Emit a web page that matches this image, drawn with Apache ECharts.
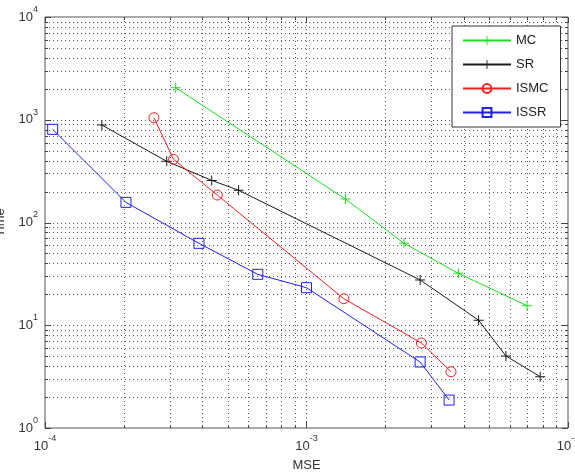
<!DOCTYPE html>
<html>
<head>
<meta charset="utf-8">
<script src="https://cdn.jsdelivr.net/npm/echarts@6/dist/echarts.min.js"></script>
<style>
html,body{margin:0;padding:0;background:#fff;}
#chart{width:575px;height:472px;}
</style>
</head>
<body>
<div id="chart"></div>
<script>
// ---- data ----
const seriesNames = ['MC', 'SR', 'ISMC', 'ISSR'];
const mcX = [3.16e-4, 1.41e-3, 2.36e-3, 3.81e-3, 6.97e-3];
const mcY = [2050, 169, 62.7, 32, 15.5];
const srX = [1.65e-4, 2.92e-4, 4.34e-4, 5.5e-4, 2.72e-3, 4.55e-3, 5.79e-3, 7.83e-3];
const srY = [889, 394, 257, 206, 27.6, 11.2, 5.02, 3.16];
const ismcX = [2.61e-4, 3.1e-4, 4.56e-4, 1.39e-3, 2.75e-3, 3.57e-3];
const ismcY = [1047, 412, 185, 18.1, 6.72, 3.53];
const issrX = [1.07e-4, 2.04e-4, 3.88e-4, 6.51e-4, 1.0e-3, 2.72e-3, 3.51e-3];
const issrY = [807, 157, 62.7, 31.3, 23.2, 4.39, 1.87];

// ---- axis ticks ----
const xMajor = [1e-4, 1e-3, 1e-2];
const xMinor = [2e-4, 3e-4, 4e-4, 5e-4, 6e-4, 7e-4, 8e-4, 9e-4,
                2e-3, 3e-3, 4e-3, 5e-3, 6e-3, 7e-3, 8e-3, 9e-3];
const yMajor = [1, 10, 100, 1000, 10000];
const yMinor = [2, 3, 4, 5, 6, 7, 8, 9,
                20, 30, 40, 50, 60, 70, 80, 90,
                200, 300, 400, 500, 600, 700, 800, 900,
                2000, 3000, 4000, 5000, 6000, 7000, 8000, 9000];
const xMin = 1e-4, xMax = 1e-2, yMin = 1, yMax = 1e4;

const FONT = '"Liberation Sans", Arial, Helvetica, sans-serif';
const TXT = '#333';
const GRIDC = '#5a5a5a';
const TICKC = '#444';

const zip = (a, b) => a.map((v, i) => [v, b[i]]);
const plus = 'path://M4.5,0 L5.5,0 L5.5,4.5 L10,4.5 L10,5.5 L5.5,5.5 L5.5,10 L4.5,10 L4.5,5.5 L0,5.5 L0,4.5 L4.5,4.5 Z';

function expLabel(v) {
  const e = Math.round(Math.log10(v));
  return '{b|10}{e|' + e + '}';
}
const labelRich = {
  b: {fontSize: 13, lineHeight: 24, color: TXT, fontFamily: FONT},
  e: {fontSize: 9, lineHeight: 10, verticalAlign: 'top', color: TXT, fontFamily: FONT}
};

const xGridData = xMajor.map(v => [v, 1, 1]).concat(xMinor.map(v => [v, 1, 0]));
const yGridData = yMajor.map(v => [1e-4, v, 1]).concat(yMinor.map(v => [1e-4, v, 0]));

function px(v) { return Math.round(v) + 0.5; }

function renderXGrid(params, api) {
  const v = api.value(0), major = api.value(2) === 1;
  const top = api.coord([v, yMax]), bot = api.coord([v, yMin]);
  const x = px(top[0]);
  const t = Math.round(top[1]), b = Math.round(bot[1]);
  const len = major ? 6 : 3;
  const children = [];
  if (v > xMin * 1.0001 && v < xMax * 0.9999) {
    children.push({type: 'line', shape: {x1: x, y1: t, x2: x, y2: b},
      style: {stroke: GRIDC, lineWidth: 1, lineDash: [1, 3]}, silent: true});
  }
  children.push({type: 'line', shape: {x1: x, y1: b, x2: x, y2: b - len}, style: {stroke: TICKC, lineWidth: 1}});
  children.push({type: 'line', shape: {x1: x, y1: t, x2: x, y2: t + len}, style: {stroke: TICKC, lineWidth: 1}});
  return {type: 'group', children: children};
}
function renderYGrid(params, api) {
  const v = api.value(1), major = api.value(2) === 1;
  const l = api.coord([xMin, v]), r = api.coord([xMax, v]);
  const y = px(l[1]);
  const x1 = Math.round(l[0]), x2 = Math.round(r[0]);
  const len = major ? 6 : 3;
  const children = [];
  if (v > yMin * 1.0001 && v < yMax * 0.9999) {
    children.push({type: 'line', shape: {x1: x1, y1: y, x2: x2, y2: y},
      style: {stroke: GRIDC, lineWidth: 1, lineDash: [1, 3]}, silent: true});
  }
  children.push({type: 'line', shape: {x1: x1, y1: y, x2: x1 + len, y2: y}, style: {stroke: TICKC, lineWidth: 1}});
  children.push({type: 'line', shape: {x1: x2, y1: y, x2: x2 - len, y2: y}, style: {stroke: TICKC, lineWidth: 1}});
  return {type: 'group', children: children};
}

function lineSeries(name, data, color, symbol, size, hollow) {
  return {
    name: name, type: 'line', data: data, z: 5,
    symbol: symbol, symbolSize: size, showSymbol: true,
    lineStyle: {color: color, width: 1},
    itemStyle: hollow ? {color: 'rgba(0,0,0,0)', borderColor: color, borderWidth: 1}
                      : {color: color, borderWidth: 0},
    emphasis: {disabled: true}
  };
}

const chart = echarts.init(document.getElementById('chart'), null, {renderer: 'canvas'});
const option = {
  animation: false,
  backgroundColor: '#fff',
  grid: {left: 45, top: 17, right: 7, bottom: 44, show: true, borderColor: '#555', borderWidth: 1,
         backgroundColor: '#fff', containLabel: false, outerBoundsMode: 'none'},
  legend: {
    data: seriesNames, orient: 'vertical', left: 452, top: 26,
    width: 109, itemWidth: 48, itemHeight: 11, itemGap: 11,
    padding: [8, 12, 8, 10],
    backgroundColor: '#fff', borderColor: '#333', borderWidth: 1, borderRadius: 0,
    textStyle: {fontSize: 13, color: '#222', fontFamily: FONT}, z: 20
  },
  xAxis: {
    type: 'log', logBase: 10, min: xMin, max: xMax,
    name: 'MSE', nameLocation: 'middle', nameGap: 31,
    nameTextStyle: {fontSize: 13, color: TXT, fontFamily: FONT},
    axisLine: {show: false}, axisTick: {show: false}, splitLine: {show: false},
    axisLabel: {margin: 6, formatter: expLabel, rich: labelRich, hideOverlap: false}
  },
  yAxis: {
    type: 'log', logBase: 10, min: yMin, max: yMax,
    name: 'Time', nameLocation: 'middle', nameGap: 38,
    nameTextStyle: {fontSize: 13, color: TXT, fontFamily: FONT},
    axisLine: {show: false}, axisTick: {show: false}, splitLine: {show: false},
    axisLabel: {margin: 7, formatter: expLabel, rich: labelRich, hideOverlap: false}
  },
  series: [
    {type: 'custom', name: 'xgrid', data: xGridData, renderItem: renderXGrid, z: 1, silent: true,
     encode: {x: 0, y: 1}, clip: false},
    {type: 'custom', name: 'ygrid', data: yGridData, renderItem: renderYGrid, z: 1, silent: true,
     encode: {x: 0, y: 1}, clip: false},
    lineSeries('MC', zip(mcX, mcY), '#1ee01e', plus, 10, false),
    lineSeries('SR', zip(srX, srY), '#1a1a1a', plus, 10, false),
    lineSeries('ISMC', zip(ismcX, ismcY), '#f02020', 'circle', 10, true),
    lineSeries('ISSR', zip(issrX, issrY), '#2020f0', 'rect', 10, true)
  ]
};
chart.setOption(option);
</script>
</body>
</html>
